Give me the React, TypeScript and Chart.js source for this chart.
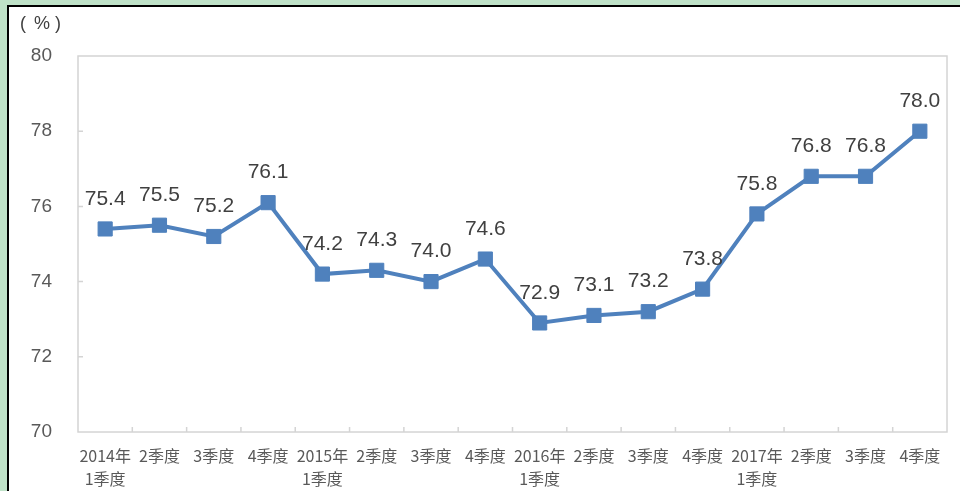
import React, { useEffect, useRef } from 'react';
import { Chart, registerables } from 'chart.js';

Chart.register(...registerables);

const categories: (string | string[])[] = [
  ['2014年', '1季度'], '2季度', '3季度', '4季度',
  ['2015年', '1季度'], '2季度', '3季度', '4季度',
  ['2016年', '1季度'], '2季度', '3季度', '4季度',
  ['2017年', '1季度'], '2季度', '3季度', '4季度',
];
const values = [75.4, 75.5, 75.2, 76.1, 74.2, 74.3, 74.0, 74.6, 72.9, 73.1, 73.2, 73.8, 75.8, 76.8, 76.8, 78.0];
const yMin = 70;
const yMax = 80;
const yStep = 2;
const unitParts = ['(', '%', ')'];

const LINE_COLOR = '#4f81bd';
const AXIS_COLOR = '#d4d4d4';

const framePlugin = {
  id: 'framePlugin',
  beforeDatasetsDraw(chart: any) {
    const { ctx, chartArea } = chart;
    const { left, right, top, bottom } = chartArea;
    ctx.save();
    ctx.strokeStyle = AXIS_COLOR;
    ctx.lineWidth = 1.5;
    ctx.strokeRect(left, top, right - left, bottom - top);
    const xs = chart.scales.x;
    const n = categories.length;
    const w = (right - left) / n;
    ctx.beginPath();
    for (let i = 1; i < n; i++) {
      const px = xs.getPixelForValue(i) - w / 2;
      ctx.moveTo(px, bottom);
      ctx.lineTo(px, bottom - 5);
    }
    const ys = chart.scales.y;
    for (let v = yMin + yStep; v < yMax; v += yStep) {
      const py = ys.getPixelForValue(v);
      ctx.moveTo(left, py);
      ctx.lineTo(left + 5, py);
    }
    ctx.stroke();
    ctx.restore();
  },
  afterDatasetsDraw(chart: any) {
    const { ctx } = chart;
    const meta = chart.getDatasetMeta(0);
    ctx.save();
    ctx.fillStyle = '#404040';
    ctx.font = '21px "Liberation Sans", Arial, sans-serif';
    ctx.textAlign = 'center';
    ctx.textBaseline = 'middle';
    meta.data.forEach((pt: any, i: number) => {
      ctx.fillText(values[i].toFixed(1), pt.x, pt.y - 30);
    });
    ctx.restore();
  },
  afterDraw(chart: any) {
    const { ctx } = chart;
    ctx.save();
    ctx.fillStyle = '#404040';
    ctx.font = '18px "Liberation Sans", Arial, sans-serif';
    ctx.textAlign = 'left';
    ctx.textBaseline = 'middle';
    const xs = [20, 34, 55];
    unitParts.forEach((t, i) => ctx.fillText(t, xs[i], 24));
    ctx.restore();
  },
};

export default function App() {
  const ref = useRef<HTMLCanvasElement>(null);

  useEffect(() => {
    if (!ref.current) return;
    const chart = new Chart(ref.current, {
      type: 'line',
      data: {
        labels: categories as any,
        datasets: [
          {
            data: values,
            borderColor: LINE_COLOR,
            backgroundColor: LINE_COLOR,
            borderWidth: 4,
            pointStyle: 'rect',
            pointRadius: 10,
            pointHoverRadius: 10,
            pointBorderWidth: 1,
            pointBackgroundColor: LINE_COLOR,
            pointBorderColor: LINE_COLOR,
            tension: 0,
          },
        ],
      },
      options: {
        responsive: false,
        animation: false,
        devicePixelRatio: 1,
        layout: { padding: { top: 56, right: 13, bottom: 0, left: 0 } },
        plugins: {
          legend: { display: false },
          tooltip: { enabled: false },
          title: { display: false },
        },
        scales: {
          x: {
            type: 'category',
            offset: true,
            grid: { display: false, drawTicks: false },
            border: { display: false },
            ticks: {
              color: '#595959',
              font: { size: 16, family: '"Noto Sans CJK SC", sans-serif', lineHeight: 1.44 },
              maxRotation: 0,
              minRotation: 0,
              autoSkip: false,
              padding: 12,
            },
            afterFit(scale: any) {
              scale.height = 59;
            },
          },
          y: {
            min: yMin,
            max: yMax,
            grid: { display: false, drawTicks: false },
            border: { display: false },
            ticks: {
              stepSize: yStep,
              color: '#595959',
              font: { size: 19, family: '"Liberation Sans", Arial, sans-serif' },
              padding: 26,
            },
            afterFit(scale: any) {
              scale.width = 78;
            },
          },
        },
      },
      plugins: [framePlugin],
    });
    return () => chart.destroy();
  }, []);

  return (
    <div style={{ position: 'fixed', left: 0, top: 0, width: 960, height: 491, background: '#bfe2c8', overflow: 'hidden' }}>
      <div
        style={{
          position: 'absolute',
          left: 7,
          top: 5,
          width: 953,
          height: 486,
          background: '#ffffff',
          borderLeft: '2px solid #000',
          borderTop: '2px solid #000',
          boxSizing: 'border-box',
        }}
      />
      <canvas ref={ref} width={960} height={491} style={{ position: 'absolute', left: 0, top: 0, width: 960, height: 491 }} />
    </div>
  );
}
